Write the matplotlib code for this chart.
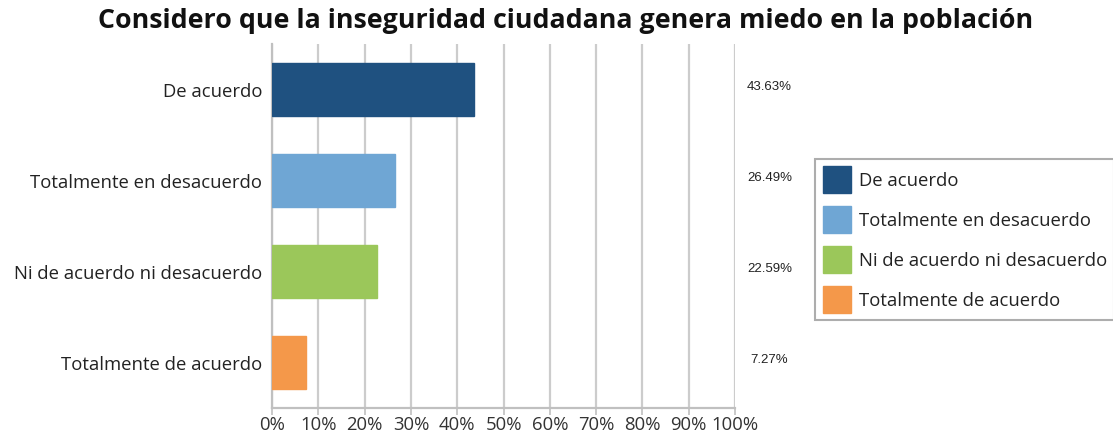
import matplotlib
matplotlib.use("Agg")
import matplotlib.pyplot as plt
from matplotlib.patches import Patch
from matplotlib.ticker import MultipleLocator, FuncFormatter
import matplotlib.transforms as mtrans

title = "Considero que la inseguridad ciudadana genera miedo en la población"
categories = ["De acuerdo", "Totalmente en desacuerdo",
              "Ni de acuerdo ni desacuerdo", "Totalmente de acuerdo"]
values = [43.63, 26.49, 22.59, 7.27]
value_labels = ["43.63%", "26.49%", "22.59%", "7.27%"]
colors = ["#1f5180", "#6fa6d4", "#9bc75a", "#f4984a"]

plt.rcParams['font.family'] = ['Open Sans', 'DejaVu Sans']

fig = plt.figure(figsize=(11.13, 4.45), dpi=100)
ax = fig.add_axes([0.2444, 0.0831, 0.4160, 0.8180])

ypos = list(range(len(categories)))
ax.barh(ypos, values, height=0.59, color=colors, edgecolor=colors, zorder=3)
ax.set_ylim(len(categories) - 0.5, -0.5)
ax.set_xlim(0, 100)
ax.set_yticks(ypos)
ax.set_yticklabels(categories, fontsize=13.3, color="#222222")
ax.tick_params(axis='y', length=0, pad=7)
ax.xaxis.set_major_locator(MultipleLocator(10))
ax.xaxis.set_major_formatter(FuncFormatter(lambda v, p: f"{int(v)}%"))
ax.tick_params(axis='x', labelsize=13.3, colors="#c0c0c0", labelcolor="#333333",
               length=5, width=1.2, pad=1)
ax.grid(axis='x', color="#cccccc", linewidth=1.6, zorder=0)
for s in ['top', 'right']:
    ax.spines[s].set_visible(False)
for s in ['left', 'bottom']:
    ax.spines[s].set_color("#c0c0c0")
    ax.spines[s].set_linewidth(1.6)

trans = mtrans.blended_transform_factory(fig.transFigure, ax.transData)
for y, lab in zip(ypos, value_labels):
    ax.text(0.6914, y - 0.03, lab, transform=trans, ha='center', va='center',
            fontsize=9.5, family=['Liberation Sans', 'DejaVu Sans'], color="#222222")

fig.text(0.508, 0.953, title, ha='center', va='center', fontsize=19.3,
         fontweight='bold', color="#111111")

handles = [Patch(facecolor=c, edgecolor=c) for c in colors]
leg = fig.legend(handles, categories, loc='upper left',
                 bbox_to_anchor=(0.7325, 0.643), fontsize=13.3,
                 frameon=True, fancybox=False, shadow=False,
                 handlelength=1.55, handleheight=1.85, handletextpad=0.4,
                 labelspacing=0.72, borderpad=0.4, borderaxespad=0)
leg.get_frame().set_edgecolor("#999999")
leg.get_frame().set_linewidth(1.5)
for t in leg.get_texts():
    t.set_color("#222222")

fig.savefig("out.png", dpi=100)
